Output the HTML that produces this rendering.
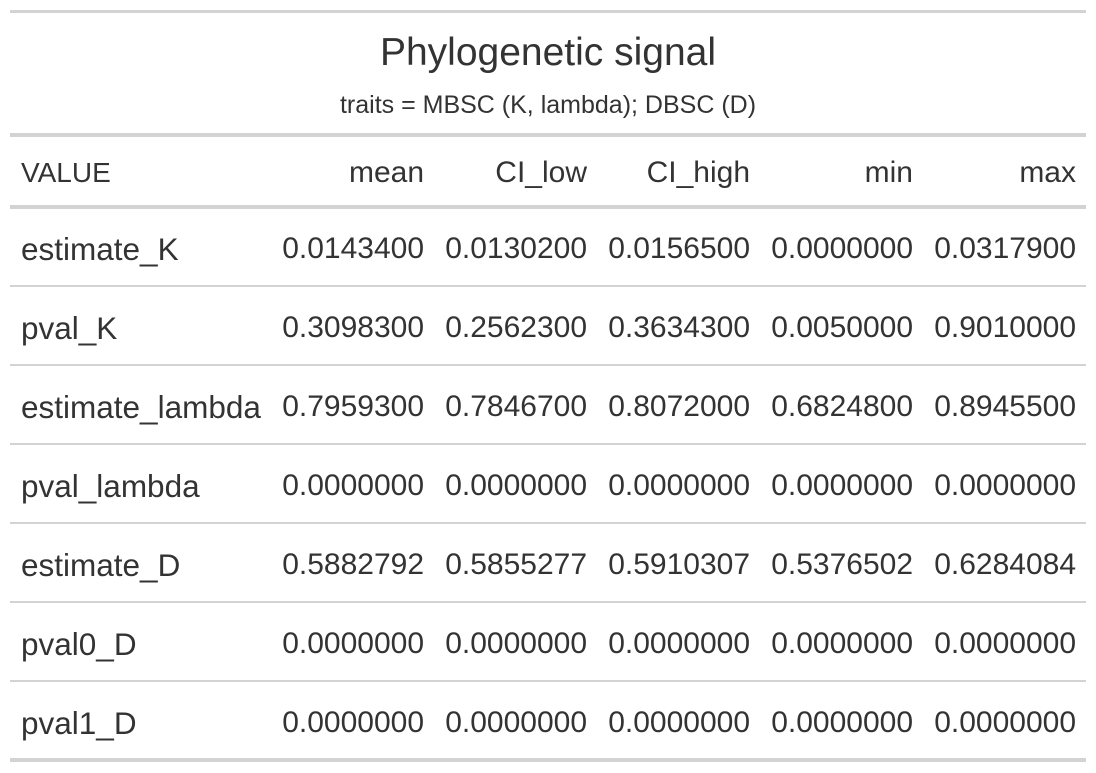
<!DOCTYPE html>
<html><head><meta charset="utf-8"><style>
body{margin:0;width:1096px;height:773px;background:#fff;position:relative;font-family:"Liberation Sans",sans-serif;color:#333;overflow:hidden}
.hl{position:absolute;left:10px;width:1076px;background:#d3d3d3}
.t{position:absolute;font-size:30px;white-space:nowrap;line-height:34px}
.r{text-align:right}
</style></head><body>
<div class="hl" style="top:10px;height:3px"></div>
<div class="t" style="left:0;width:1096px;text-align:center;top:31px;font-size:39px;line-height:44px">Phylogenetic signal</div>
<div class="t" style="left:0;width:1096px;text-align:center;top:90px;font-size:25px;line-height:30px">traits = MBSC (K, lambda); DBSC (D)</div>
<div class="hl" style="top:133px;height:4px"></div>
<div class="hl" style="top:205px;height:4px"></div>
<div id="tb"></div>
<script>
const heads=["VALUE","mean","CI_low","CI_high","min","max"];
const rows=[
["estimate_K","0.0143400","0.0130200","0.0156500","0.0000000","0.0317900"],
["pval_K","0.3098300","0.2562300","0.3634300","0.0050000","0.9010000"],
["estimate_lambda","0.7959300","0.7846700","0.8072000","0.6824800","0.8945500"],
["pval_lambda","0.0000000","0.0000000","0.0000000","0.0000000","0.0000000"],
["estimate_D","0.5882792","0.5855277","0.5910307","0.5376502","0.6284084"],
["pval0_D","0.0000000","0.0000000","0.0000000","0.0000000","0.0000000"],
["pval1_D","0.0000000","0.0000000","0.0000000","0.0000000","0.0000000"]];
const rights=[0,424,587,750,913,1076];
const tb=document.getElementById('tb');
function cell(txt,ci,y,name,fs){
  const d=document.createElement('div');
  d.className='t'+(ci?' r':'');
  
  
  d.textContent=txt;
  if(fs)d.style.fontSize=fs+'px';
  if(ci===0){d.style.left='21px';}else{d.style.left=(rights[ci]-170)+'px';d.style.width='170px';}
  d.style.top=y+'px';
  tb.appendChild(d);
}
heads.forEach((h,i)=>cell(h,i,156,'column-header',i===0?28:30));
rows.forEach((r,ri)=>{
  const y=232+ri*79;
  r.forEach((v,ci)=>cell(v,ci,y,ci?'table-cell':'row-label',ci?30:31.5));
  const l=document.createElement('div');
  l.className='hl';
  
  
  const last=ri===rows.length-1;
  l.style.top=(last?758:285+ri*79)+'px';
  l.style.height=(last?'4px':'2px');
  tb.appendChild(l);
});
</script>
</body></html>
